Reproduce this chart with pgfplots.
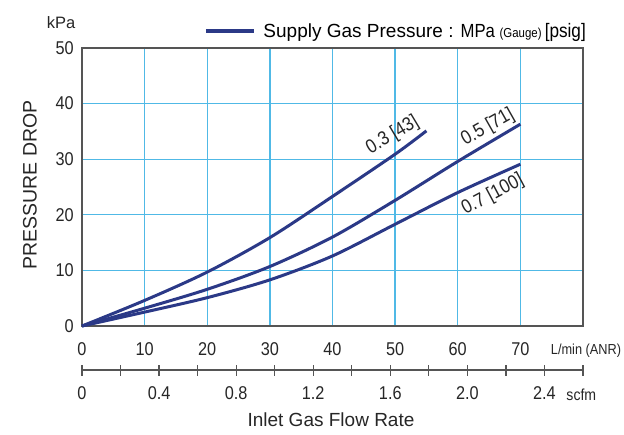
\documentclass[border=0pt]{standalone}
\usepackage{pgfplots}
\pgfplotsset{compat=1.18}
\usepackage{fontspec}
\setmainfont{Liberation Sans}
\newfontfamily\cond{Liberation Sans}[FakeStretch=0.88]
\definecolor{navy}{RGB}{43,57,135}
\definecolor{gridc}{RGB}{80,185,230}
\definecolor{axc}{RGB}{85,85,85}
\newcommand{\fsz}[1]{\fontsize{#1}{#1}\selectfont}
\begin{document}
\begin{tikzpicture}
\path[use as bounding box] (-82bp,-109bp) rectangle (542bp,326bp);
\begin{axis}[
  at={(0,0)}, anchor=south west,
  scale only axis, width=501bp, height=278bp,
  xmin=0, xmax=80, ymin=0, ymax=50,
  xtick={0,10,...,70}, ytick={0,10,...,50},
  major tick length=0pt,
  clip=false,
  grid=major, major grid style={gridc, line width=1.3bp},
  axis line style={axc, line width=1.2bp},
  /pgf/number format/assume math mode=true,
  tick label style={font=\cond\fsz{18.5bp}, inner sep=0pt, text=black!85},
  xticklabel shift=16bp,
  yticklabel shift=8bp,
  legend style={at={(0.2435,1.0612)}, anchor=west, draw=none, fill=none,
    inner sep=0pt, column sep=8bp, nodes={inner sep=0pt}},
  legend image code/.code={\draw[#1] (0bp,0bp) -- (48bp,0bp);},
]
\addlegendimage{navy, line width=3.3bp}
\addlegendentry{{\fsz{19bp}Supply Gas Pressure : }{\cond\fsz{19bp}MPa \fsz{13bp}(Gauge) \fsz{19.5bp}[psig]}}
\addplot[navy, line width=3bp, smooth, forget plot] coordinates {
 (0,0) (10,4.6) (20,9.7) (30,15.9) (40,23.3) (50,30.9) (55,35.1)};
\addplot[navy, line width=3bp, smooth, forget plot] coordinates {
 (0,0) (10,3.2) (20,6.6) (30,10.7) (40,16.0) (50,22.6) (60,29.6) (70,36.3)};
\addplot[navy, line width=3bp, smooth, forget plot] coordinates {
 (0,0) (10,2.5) (20,5.1) (30,8.3) (40,12.6) (50,18.3) (60,24.0) (70,29.1)};
\node[font=\cond\fsz{19.5bp}, text=black!85, rotate=31] at (axis cs:49.6,34.3) {0.3 [43]};
\node[font=\cond\fsz{19.5bp}, text=black!85, rotate=29.5] at (axis cs:64.8,35.7) {0.5 [71]};
\node[font=\cond\fsz{19.5bp}, text=black!85, rotate=28] at (axis cs:65.6,23.6) {0.7 [100]};
\node[font=\fsz{16.5bp}, text=black!85] at (axis description cs:-0.0419,1.090) {kPa};
\node[font=\fsz{19.5bp}, text=black!85, rotate=90] at (axis description cs:-0.1038,0.507) {PRESSURE DROP};
\node[font=\fsz{19bp}, text=black!85] at (axis description cs:0.497,-0.338) {Inlet Gas Flow Rate};
\node[font=\cond\fsz{14.5bp}, text=black!85, anchor=base west] at (axis description cs:0.929,-0.1043) {L/min (ANR)};
\node[font=\cond\fsz{16bp}, text=black!85, anchor=base west] at (axis description cs:0.960,-0.2662) {scfm};
\end{axis}
\begin{axis}[
  at={(0,-44bp)}, anchor=south west,
  scale only axis, width=501bp, height=10bp,
  xmin=0, xmax=2.6, ymin=0, ymax=1,
  hide y axis, axis x line*=bottom,
  axis line style={-, axc, line width=1.2bp},
  xtick={0,0.2,0.4,0.6,0.8,1,1.2,1.4,1.6,1.8,2,2.2,2.4,2.6},
  xticklabels={0,,0.4,,0.8,,1.2,,1.6,,2.0,,2.4,},
  xtick align=center, major tick length=11bp,
  tick style={axc, line width=1.2bp},
  /pgf/number format/assume math mode=true,
  tick label style={font=\cond\fsz{18.5bp}, inner sep=0pt, text=black!85},
  xticklabel shift=11bp,
]
\end{axis}
\end{tikzpicture}
\end{document}
